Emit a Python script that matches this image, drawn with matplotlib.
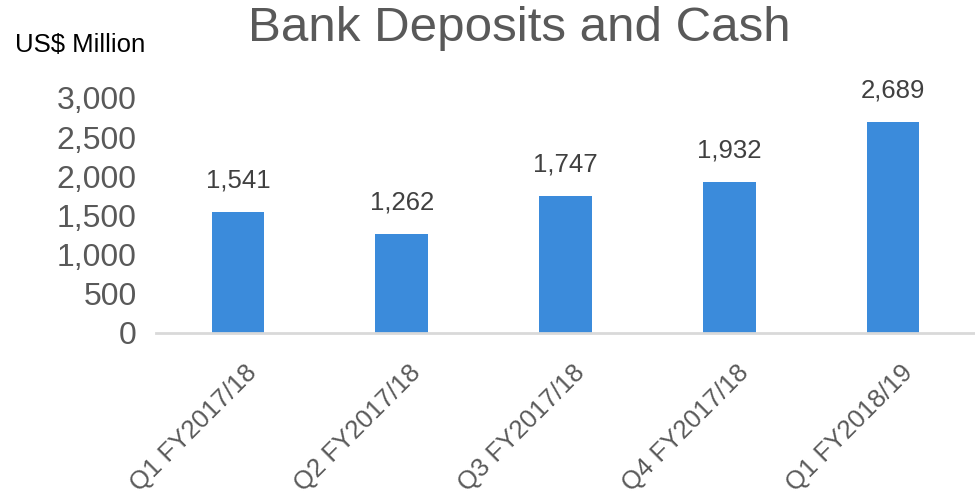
import matplotlib
matplotlib.use('Agg')
import matplotlib.pyplot as plt
from matplotlib.transforms import ScaledTranslation

categories = ['Q1 FY2017/18', 'Q2 FY2017/18', 'Q3 FY2017/18', 'Q4 FY2017/18', 'Q1 FY2018/19']
values = [1541, 1262, 1747, 1932, 2689]
yticks = [0, 500, 1000, 1500, 2000, 2500, 3000]

plt.rcParams['font.family'] = ['Liberation Sans', 'DejaVu Sans']
grey = '#595959'

fig = plt.figure(figsize=(9.75, 4.97), dpi=100)
ax = fig.add_axes([0.16, 0.33, 0.84, 0.473])
x = range(len(categories))
ax.bar(x, values, width=0.32, color='#3b8bdb', zorder=2)
ax.set_xlim(-0.5, len(categories) - 0.5)
ax.set_ylim(0, 3000)
ax.set_yticks(yticks)
ax.set_yticklabels([f'{v:,}' for v in yticks], fontsize=23, color=grey)
ax.set_xticks(list(x))
ax.set_xticklabels([])
ax.tick_params(axis='both', length=0)
ax.tick_params(axis='y', pad=14)
for s in ['top', 'right', 'left']:
    ax.spines[s].set_visible(False)
ax.spines['bottom'].set_color('#d9d9d9')
ax.spines['bottom'].set_linewidth(2)

# rotated category labels, top-right corner just below/right of each tick
off = ScaledTranslation(0.07, -0.28, fig.dpi_scale_trans)
for i, c in enumerate(categories):
    ax.text(i, 0, c, transform=ax.get_xaxis_transform() + off, rotation=45,
            rotation_mode='anchor', ha='right', va='top', fontsize=18.5, color=grey)

for i, v in enumerate(values):
    ax.annotate(f'{v:,}', (i, v), xytext=(0, 14), textcoords='offset points',
                ha='center', va='bottom', fontsize=18.5, color='#404040', clip_on=False)

fig.text(0.533, 0.943, 'Bank Deposits and Cash', ha='center', va='center', fontsize=35.5, color=grey)
fig.text(0.015, 0.91, 'US$ Million', ha='left', va='center', fontsize=18.5, color='black')

fig.savefig('out.png', dpi=100)
